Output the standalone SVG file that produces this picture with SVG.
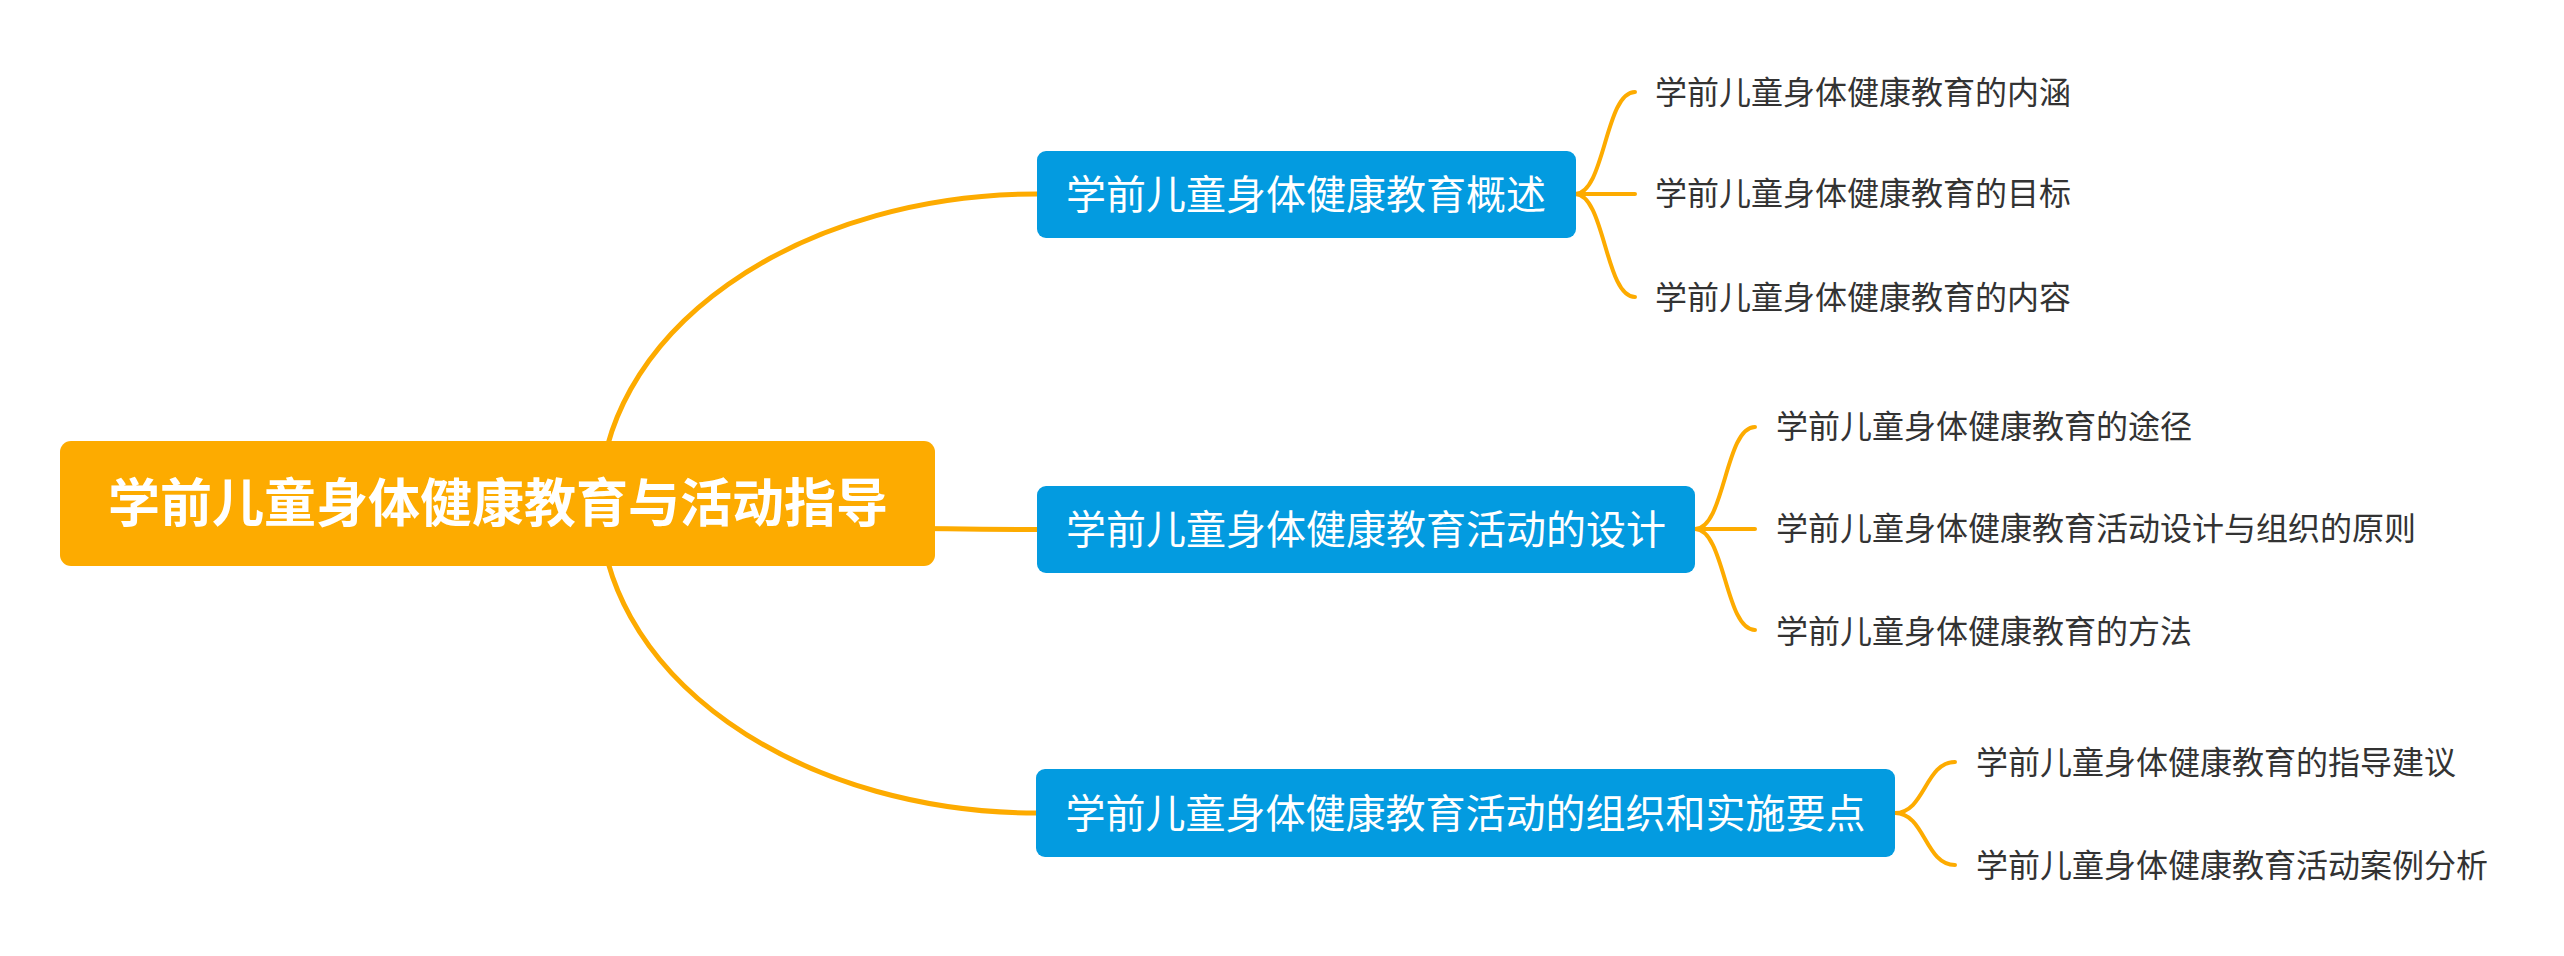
<svg xmlns="http://www.w3.org/2000/svg" width="2564" height="956" viewBox="0 0 2564 956">
<style>
.conn{fill:none;stroke:#FDAB00;stroke-linecap:round}
.main{stroke-width:5}
.sub{stroke-width:4}
.root-box{fill:#FDAB00}
.root-text{font-family:"Noto Sans CJK SC","Noto Sans",sans-serif;font-weight:bold;font-size:52px;fill:#FFFFFF;text-anchor:middle}
.br-box{fill:#039BE0}
.br-text{font-family:"Noto Sans CJK SC","Noto Sans",sans-serif;font-size:40px;fill:#FFFFFF;text-anchor:middle}
.leaf-text{font-family:"Noto Sans CJK SC","Noto Sans",sans-serif;font-size:32px;fill:#333333}
</style>
<rect width="2564" height="956" fill="#FFFFFF"/>
<g id="connectors">
<path class="conn main" d="M600,503 A437,309 0 0 1 1037,194"/>
<path class="conn main" d="M600,503 A437,26.5 0 0 0 1037,529.5"/>
<path class="conn main" d="M600,503 A437,310 0 0 0 1037,813"/>
<path class="conn sub" d="M1575,194 C1605,194 1605,92 1635,92"/>
<path class="conn sub" d="M1575,194 L1635,194"/>
<path class="conn sub" d="M1575,194 C1605,194 1605,297 1635,297"/>
<path class="conn sub" d="M1695,529 C1725,529 1725,427 1755,427"/>
<path class="conn sub" d="M1695,529 L1755,529"/>
<path class="conn sub" d="M1695,529 C1725,529 1725,630 1755,630"/>
<path class="conn sub" d="M1895,813 C1925,813 1925,762 1955,762"/>
<path class="conn sub" d="M1895,813 C1925,813 1925,865 1955,865"/>
</g>
<g id="root">
<rect class="root-box" x="60" y="441" width="875" height="125" rx="11"/>
<text class="root-text" x="498" y="522">学前儿童身体健康教育与活动指导</text>
</g>
<g id="branch1">
<rect class="br-box" x="1037" y="151" width="539" height="87" rx="9"/>
<text class="br-text" x="1306" y="209">学前儿童身体健康教育概述</text>
</g>
<g id="branch2">
<rect class="br-box" x="1037" y="486" width="658" height="87" rx="9"/>
<text class="br-text" x="1366" y="544">学前儿童身体健康教育活动的设计</text>
</g>
<g id="branch3">
<rect class="br-box" x="1036" y="769" width="859" height="88" rx="9"/>
<text class="br-text" x="1465.5" y="828">学前儿童身体健康教育活动的组织和实施要点</text>
</g>
<g id="leaf1-1"><text class="leaf-text" x="1655" y="104">学前儿童身体健康教育的内涵</text></g>
<g id="leaf1-2"><text class="leaf-text" x="1655" y="205">学前儿童身体健康教育的目标</text></g>
<g id="leaf1-3"><text class="leaf-text" x="1655" y="309">学前儿童身体健康教育的内容</text></g>
<g id="leaf2-1"><text class="leaf-text" x="1776" y="438">学前儿童身体健康教育的途径</text></g>
<g id="leaf2-2"><text class="leaf-text" x="1776" y="540">学前儿童身体健康教育活动设计与组织的原则</text></g>
<g id="leaf2-3"><text class="leaf-text" x="1776" y="643">学前儿童身体健康教育的方法</text></g>
<g id="leaf3-1"><text class="leaf-text" x="1976" y="774">学前儿童身体健康教育的指导建议</text></g>
<g id="leaf3-2"><text class="leaf-text" x="1976" y="877">学前儿童身体健康教育活动案例分析</text></g>
</svg>
